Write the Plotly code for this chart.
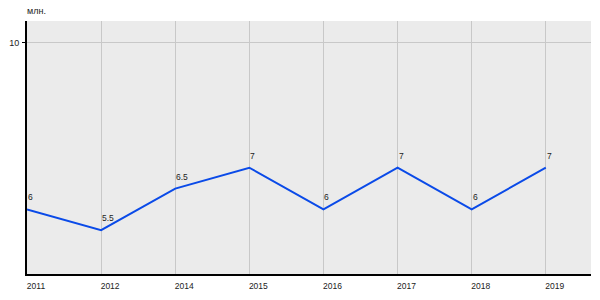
import plotly.graph_objects as go

years = ["2011", "2012", "2014", "2015", "2016", "2017", "2018", "2019"]
values = [6, 5.5, 6.5, 7, 6, 7, 6, 7]
labels = ["6", "5.5", "6.5", "7", "6", "7", "6", "7"]
unit = "млн."

FONT = "Liberation Sans, Arial"
xs = list(range(len(years)))

fig = go.Figure()
fig.add_trace(go.Scatter(
    x=xs, y=values, mode="lines",
    line=dict(color="#0a4ae8", width=2),
    hoverinfo="skip",
))
ann = [dict(text=t, x=x, y=v, xref="x", yref="y", xanchor="left",
            yanchor="bottom", showarrow=False, xshift=-1, yshift=5,
            font=dict(family=FONT, size=8.5, color="#222"))
       for x, v, t in zip(xs, values, labels)]
ann.append(dict(text=unit, x=0, y=1, xref="paper", yref="paper",
                xanchor="left", yanchor="bottom", showarrow=False,
                xshift=-2, yshift=3, font=dict(family=FONT, size=9, color="#222")))
fig.update_layout(
    width=600, height=300,
    margin=dict(l=21, r=9, t=21, b=20),
    paper_bgcolor="white", plot_bgcolor="#ebebeb",
    showlegend=False,
    font=dict(family=FONT, size=9, color="#222"),
    xaxis=dict(
        range=[0, 7.61], tickmode="array",
        tickvals=xs, ticktext=years,
        tickfont=dict(size=8.5),
        showgrid=True, gridcolor="#c8c8c8", gridwidth=1,
        showline=True, linecolor="black", linewidth=2,
        ticks="", ticklabelshift=9, ticklabelstandoff=3,
        zeroline=False, fixedrange=True,
    ),
    yaxis=dict(
        range=[4.45, 10.52], tickmode="array", tickvals=[10], ticktext=["10"],
        showgrid=True, gridcolor="#c8c8c8", gridwidth=1,
        showline=True, linecolor="black", linewidth=2,
        ticks="outside", ticklen=3, tickcolor="black", ticklabelstandoff=1,
        zeroline=False, fixedrange=True,
    ),
    annotations=ann,
)
fig.write_html("out.html")
